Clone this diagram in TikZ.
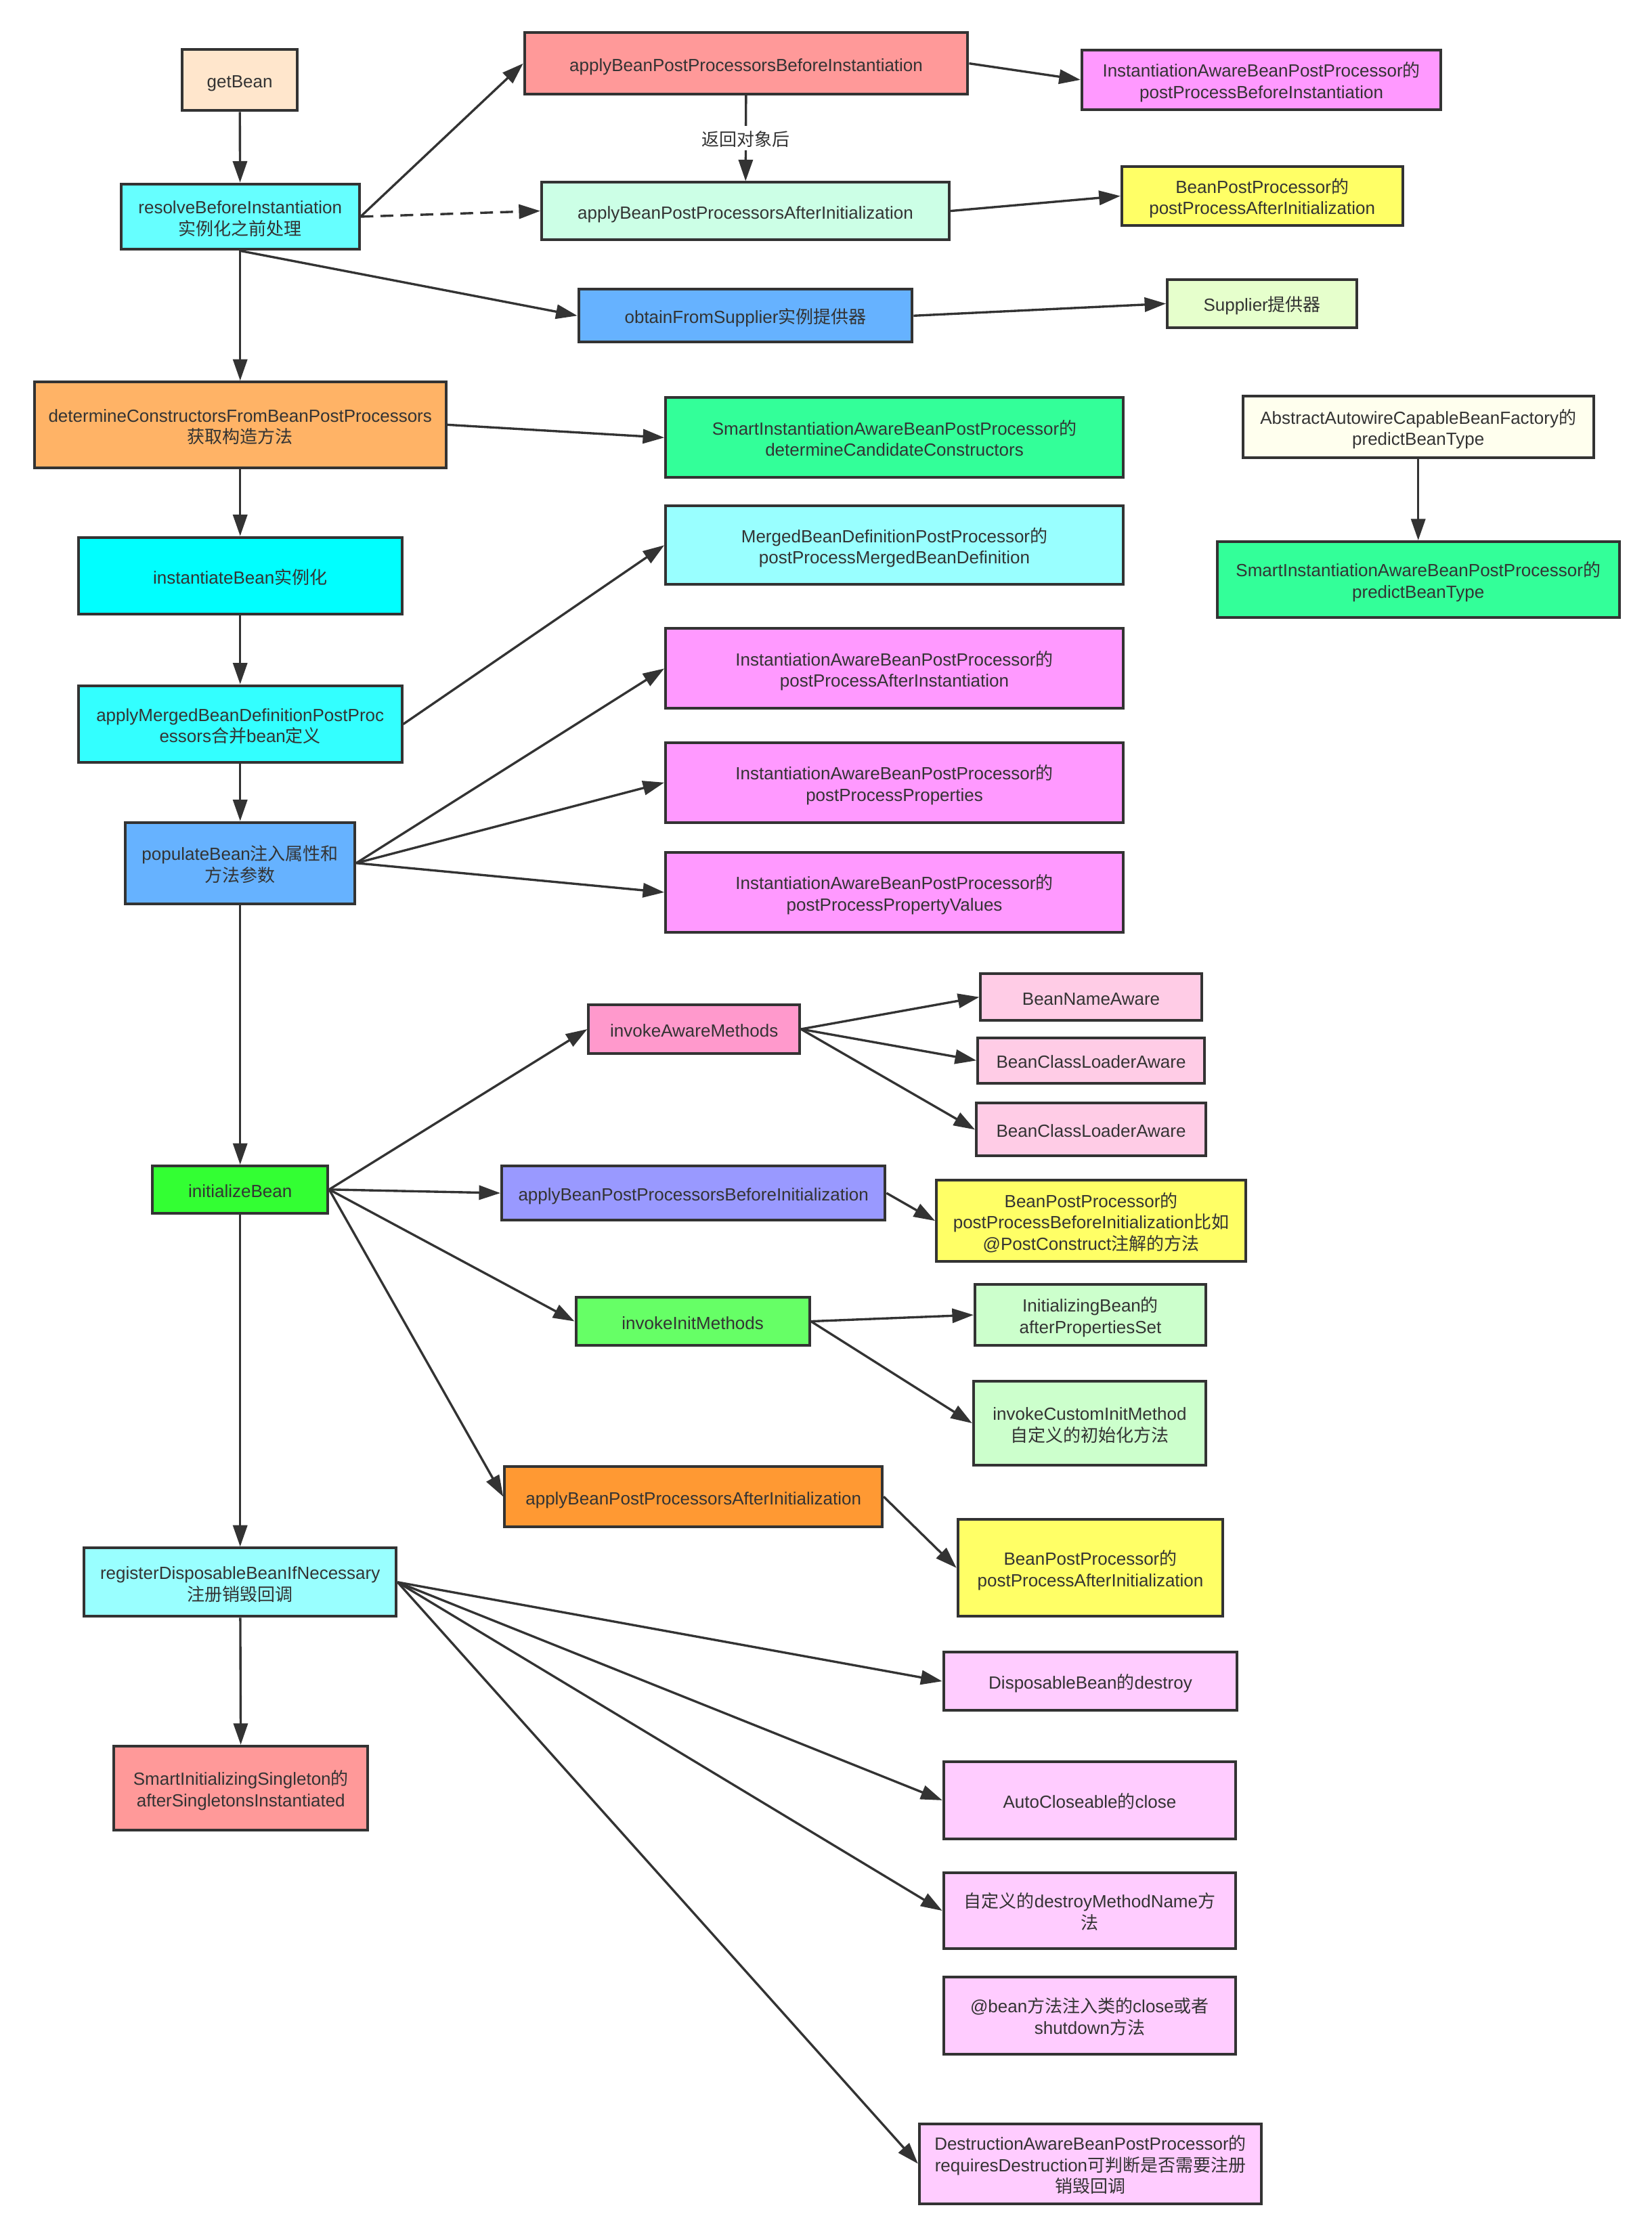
\documentclass[tikz,border=0pt]{standalone}
\usepackage{fontspec}
\setmainfont{Liberation Sans}
\newfontfamily\cjk{Noto Sans CJK SC}
\usetikzlibrary{arrows.meta}
\newcommand\zh[1]{{\cjk #1}}
% centred block of lines with a fixed 15pt line box (13pt above, 2pt below the baseline)
\newcommand\ml[1]{{\setbox0=\vbox{\let\\\cr\baselineskip=15pt\lineskiplimit=-30pt\lineskip=0pt
  \halign{\hfil##\hfil\vrule height13pt depth2pt width0pt\cr#1\crcr}}\dp0=2pt \box0}}
\definecolor{ink}{HTML}{333333}
\definecolor{cPeach}{HTML}{FFE6CC}
\definecolor{cCyanA}{HTML}{66FFFF}
\definecolor{cCyanB}{HTML}{00FFFF}
\definecolor{cCyanC}{HTML}{33FFFF}
\definecolor{cCyanD}{HTML}{99FFFF}
\definecolor{cSalmon}{HTML}{FF9999}
\definecolor{cViolet}{HTML}{FF99FF}
\definecolor{cMint}{HTML}{CCFFE6}
\definecolor{cYellow}{HTML}{FFFF66}
\definecolor{cBlue}{HTML}{66B2FF}
\definecolor{cLime}{HTML}{E6FFCC}
\definecolor{cOrangeA}{HTML}{FFB366}
\definecolor{cOrangeB}{HTML}{FF9933}
\definecolor{cSea}{HTML}{33FF99}
\definecolor{cIvory}{HTML}{FFFFEE}
\definecolor{cRose}{HTML}{FF99CC}
\definecolor{cPink}{HTML}{FFCCE6}
\definecolor{cGreenA}{HTML}{33FF33}
\definecolor{cGreenB}{HTML}{66FF66}
\definecolor{cGreenC}{HTML}{CCFFCC}
\definecolor{cLavender}{HTML}{9999FF}
\definecolor{cLilac}{HTML}{FFCCFF}

\begin{document}
\begin{tikzpicture}[x=1pt,y=-1pt,
  box/.style={draw=ink, line width=1.9pt, rectangle, inner sep=0pt,
    text=ink, font=\fontsize{12.35}{15}\selectfont},
  link/.style={draw=ink, line width=1.6pt, -{Triangle[length=15pt,width=10pt]}},
  dlink/.style={link, dash pattern=on 9pt off 5pt},
]
\fill[white] (0,0) rectangle (1159,1568);
\useasboundingbox (0,0) rectangle (1159,1568);

% main chain
\node[box, fill=cPeach, minimum width=81pt, minimum height=43pt] (getbean) at (168.2,56.1) {\ml{getBean}};
\node[box, fill=cCyanA, minimum width=167pt, minimum height=46pt] (resolve) at (168.5,152) {\ml{resolveBeforeInstantiation\\\zh{实例化之前处理}}};
\node[box, fill=cOrangeA, minimum width=289pt, minimum height=60pt] (determine) at (168.5,298) {\ml{determineConstructorsFromBeanPostProcessors\\\zh{获取构造方法}}};
\node[box, fill=cCyanB, minimum width=227pt, minimum height=54pt] (instantiate) at (168.5,404) {\ml{instantiateBean\zh{实例化}}};
\node[box, fill=cCyanC, minimum width=227pt, minimum height=54pt] (applymerged) at (168.5,508) {\ml{applyMergedBeanDefinitionPostProc\\essors\zh{合并}bean\zh{定义}}};
\node[box, fill=cBlue, minimum width=161pt, minimum height=57pt] (populate) at (168.5,605.5) {\ml{populateBean\zh{注入属性和}\\\zh{方法参数}}};
\node[box, fill=cGreenA, minimum width=123pt, minimum height=33pt] (initbean) at (168.5,834.5) {\ml{initializeBean}};
\node[box, fill=cCyanD, minimum width=219pt, minimum height=48pt] (register) at (168.5,1110) {\ml{registerDisposableBeanIfNecessary\\\zh{注册销毁回调}}};
\node[box, fill=cSalmon, minimum width=178pt, minimum height=59pt] (smartinit) at (169,1254.5) {\ml{SmartInitializingSingleton\zh{的}\\afterSingletonsInstantiated}};

% before instantiation branch
\node[box, fill=cSalmon, minimum width=311pt, minimum height=43pt] (abpbi) at (523.5,44.5) {\ml{applyBeanPostProcessorsBeforeInstantiation}};
\node[box, fill=cViolet, minimum width=252pt, minimum height=42pt] (iabppbi) at (885,56) {\ml{InstantiationAwareBeanPostProcessor\zh{的}\\postProcessBeforeInstantiation}};
\node[box, fill=cMint, minimum width=286pt, minimum height=40pt] (abpai) at (523,148) {\ml{applyBeanPostProcessorsAfterInitialization}};
\node[box, fill=cYellow, minimum width=197pt, minimum height=41pt] (bppai) at (885.5,137.5) {\ml{BeanPostProcessor\zh{的}\\postProcessAfterInitialization}};
\node[box, fill=cBlue, minimum width=234pt, minimum height=37pt] (obtain) at (523,221.5) {\ml{obtainFromSupplier\zh{实例提供器}}};
\node[box, fill=cLime, minimum width=133pt, minimum height=34pt] (supplier) at (885.5,213) {\ml{Supplier\zh{提供器}}};

% constructor / type prediction
\node[box, fill=cSea, minimum width=321pt, minimum height=56pt] (siadc) at (627.5,307) {\ml{SmartInstantiationAwareBeanPostProcessor\zh{的}\\determineCandidateConstructors}};
\node[box, fill=cIvory, minimum width=246pt, minimum height=43pt] (aacbf) at (995,299.5) {\ml{AbstractAutowireCapableBeanFactory\zh{的}\\predictBeanType}};
\node[box, fill=cSea, minimum width=282pt, minimum height=53pt] (siapbt) at (995,406.5) {\ml{SmartInstantiationAwareBeanPostProcessor\zh{的}\\predictBeanType}};

% merged definition / population
\node[box, fill=cCyanD, minimum width=321pt, minimum height=55pt] (mbdpp) at (627.5,382.5) {\ml{MergedBeanDefinitionPostProcessor\zh{的}\\postProcessMergedBeanDefinition}};
\node[box, fill=cViolet, minimum width=321pt, minimum height=56pt] (iapai) at (627.5,469) {\ml{InstantiationAwareBeanPostProcessor\zh{的}\\postProcessAfterInstantiation}};
\node[box, fill=cViolet, minimum width=321pt, minimum height=56pt] (iapp) at (627.5,549) {\ml{InstantiationAwareBeanPostProcessor\zh{的}\\postProcessProperties}};
\node[box, fill=cViolet, minimum width=321pt, minimum height=56pt] (iappv) at (627.5,626) {\ml{InstantiationAwareBeanPostProcessor\zh{的}\\postProcessPropertyValues}};

% initialization
\node[box, fill=cRose, minimum width=148pt, minimum height=34pt] (aware) at (487,722) {\ml{invokeAwareMethods}};
\node[box, fill=cPink, minimum width=155pt, minimum height=33pt] (bna) at (765.5,699.5) {\ml{BeanNameAware}};
\node[box, fill=cPink, minimum width=159pt, minimum height=32pt] (bcla) at (765.5,744) {\ml{BeanClassLoaderAware}};
\node[box, fill=cPink, minimum width=161pt, minimum height=37pt] (bclb) at (765.5,792.5) {\ml{BeanClassLoaderAware}};
\node[box, fill=cLavender, minimum width=269pt, minimum height=38pt] (abpbinit) at (486.5,837) {\ml{applyBeanPostProcessorsBeforeInitialization}};
\node[box, fill=cYellow, minimum width=217pt, minimum height=57pt] (bppbi) at (765.5,856.5) {\ml{BeanPostProcessor\zh{的}\\postProcessBeforeInitialization\zh{比如}\\@PostConstruct\zh{注解的方法}}};
\node[box, fill=cGreenB, minimum width=164pt, minimum height=34pt] (initm) at (486,927) {\ml{invokeInitMethods}};
\node[box, fill=cGreenC, minimum width=162pt, minimum height=43pt] (ibean) at (765,922.5) {\ml{InitializingBean\zh{的}\\afterPropertiesSet}};
\node[box, fill=cGreenC, minimum width=163pt, minimum height=59pt] (custom) at (764.5,998.5) {\ml{invokeCustomInitMethod\\\zh{自定义的初始化方法}}};
\node[box, fill=cOrangeB, minimum width=265pt, minimum height=42pt] (abpainit) at (486.5,1050) {\ml{applyBeanPostProcessorsAfterInitialization}};
\node[box, fill=cYellow, minimum width=186pt, minimum height=68pt] (bppainit) at (765,1100) {\ml{BeanPostProcessor\zh{的}\\postProcessAfterInitialization}};

% destruction callbacks
\node[box, fill=cLilac, minimum width=206pt, minimum height=41pt] (destroy) at (765,1179.5) {\ml{DisposableBean\zh{的}destroy}};
\node[box, fill=cLilac, minimum width=205pt, minimum height=54pt] (autoclose) at (764.5,1263) {\ml{AutoCloseable\zh{的}close}};
\node[box, fill=cLilac, minimum width=205pt, minimum height=53pt] (dmn) at (764.5,1340.5) {\ml{\zh{自定义的}destroyMethodName\zh{方}\\\zh{法}}};
\node[box, fill=cLilac, minimum width=205pt, minimum height=54pt] (beanclose) at (764.5,1414) {\ml{@bean\zh{方法注入类的}close\zh{或者}\\shutdown\zh{方法}}};
\node[box, fill=cLilac, minimum width=240pt, minimum height=56pt] (dabpp) at (765,1518) {\ml{DestructionAwareBeanPostProcessor\zh{的}\\requiresDestruction\zh{可判断是否需要注册}\\\zh{销毁回调}}};

% connectors
\draw[link] (getbean) -- (resolve);
\draw[link] (resolve.east) -- (abpbi.west);
\draw[dlink] (resolve.east) -- (abpai.west);
\draw[link] (abpbi) -- node[fill=white, text=ink, inner sep=1pt, font=\fontsize{12.35}{15}\selectfont] (ret) {\ml{\zh{返回对象后}}} (abpai);
\draw[link] (abpbi.east) -- (iabppbi.west);
\draw[link] (abpai.east) -- (bppai.west);
\draw[link] (resolve.south) -- (obtain.west);
\draw[link] (obtain.east) -- (supplier.west);
\draw[link] (resolve) -- (determine);
\draw[link] (determine.east) -- (siadc.west);
\draw[link] (aacbf) -- (siapbt);
\draw[link] (determine) -- (instantiate);
\draw[link] (instantiate) -- (applymerged);
\draw[link] (applymerged.east) -- (mbdpp.west);
\draw[link] (applymerged) -- (populate);
\draw[link] (populate.east) -- (iapai.west);
\draw[link] (populate.east) -- (iapp.west);
\draw[link] (populate.east) -- (iappv.west);
\draw[link] (populate) -- (initbean);
\draw[link] (initbean.east) -- (aware.west);
\draw[link] (initbean.east) -- (abpbinit.west);
\draw[link] (initbean.east) -- (initm.west);
\draw[link] (initbean.east) -- (abpainit.west);
\draw[link] (initbean) -- (register);
\draw[link] (aware.east) -- (bna.west);
\draw[link] (aware.east) -- (bcla.west);
\draw[link] (aware.east) -- (bclb.west);
\draw[link] (abpbinit.east) -- (bppbi.west);
\draw[link] (initm.east) -- (ibean.west);
\draw[link] (initm.east) -- (custom.west);
\draw[link] (abpainit.east) -- (bppainit.west);
\draw[link] (register) -- (smartinit);
\draw[link] (register.east) -- (destroy.west);
\draw[link] (register.east) -- (autoclose.west);
\draw[link] (register.east) -- (dmn.west);
\draw[link] (register.east) -- (dabpp.west);
\end{tikzpicture}
\end{document}
